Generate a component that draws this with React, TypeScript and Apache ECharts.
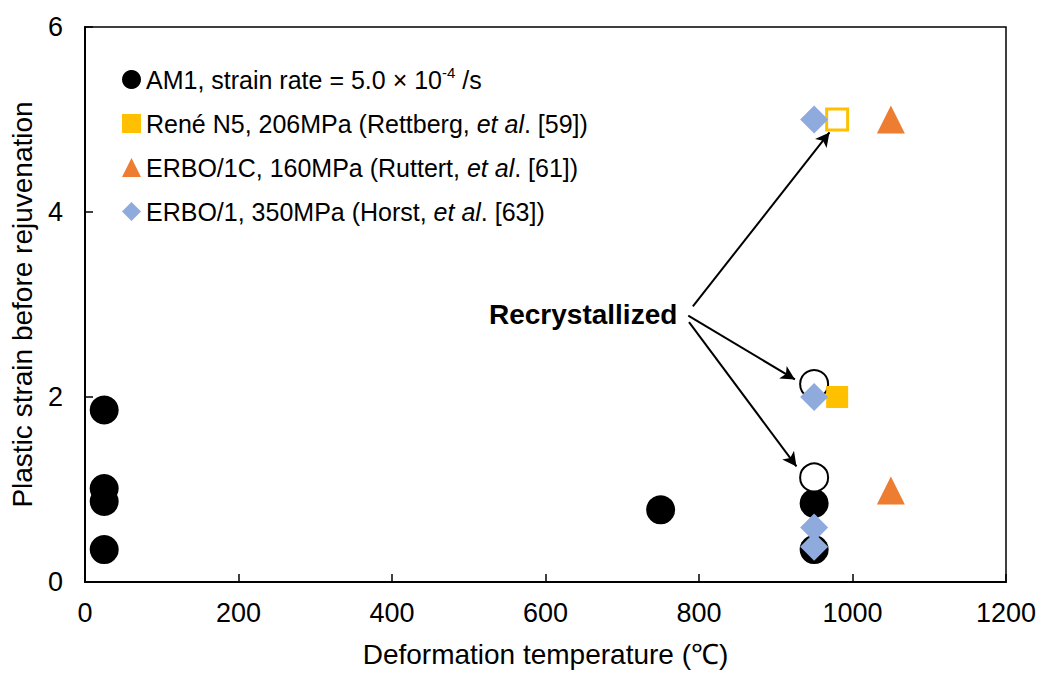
import React, { useEffect, useRef } from "react";
import * as echarts from "echarts";

// AM1, strain rate = 5.0e-4 /s (filled circles)
const am1: [number, number][] = [
  [25, 1.86],
  [25, 1.01],
  [25, 0.87],
  [25, 0.35],
  [750, 0.78],
  [950, 0.85],
  [950, 0.35],
];
// AM1 recrystallized (open circles)
const am1Recryst: [number, number][] = [
  [950, 2.14],
  [950, 1.13],
];
// René N5 (filled squares)
const reneN5: [number, number][] = [[980, 2.0]];
// René N5 recrystallized (open square)
const reneN5Recryst: [number, number][] = [[980, 5.0]];
// ERBO/1C (triangles)
const erbo1c: [number, number][] = [
  [1050, 5.0],
  [1050, 0.99],
];
// ERBO/1 (diamonds)
const erbo1: [number, number][] = [
  [950, 5.0],
  [950, 2.0],
  [950, 0.59],
  [950, 0.38],
];

// Annotation arrows [start, tip] in data coordinates
const arrows: [[number, number], [number, number]][] = [
  [[792, 2.98], [970, 4.86]],
  [[786, 2.88], [925, 2.19]],
  [[787, 2.81], [927, 1.25]],
];

const xTicks = { min: 0, max: 1200, interval: 200 };
const yTicks = { min: 0, max: 6, interval: 2 };

const NAMES = {
  am1: "AM1, strain rate = 5.0 × 10-4 /s",
  rene: "René N5, 206MPa (Rettberg, et al. [59])",
  erbo1c: "ERBO/1C, 160MPa (Ruttert, et al. [61])",
  erbo1: "ERBO/1, 350MPa (Horst, et al. [63])",
};

const FONT = "'Liberation Sans', Arial, sans-serif";

export default function App() {
  const ref = useRef<HTMLDivElement>(null);
  useEffect(() => {
    if (!ref.current) return;
    const chart = echarts.init(ref.current, undefined, { renderer: "svg" });
    const legendFormatter = (name: string) => {
      if (name === NAMES.am1) return "{n|AM1, strain rate = 5.0 × 10}{s|-4}{n| /s}";
      if (name === NAMES.rene) return "{n|René N5, 206MPa (Rettberg, }{i|et al}{n|. [59])}";
      if (name === NAMES.erbo1c) return "{n|ERBO/1C, 160MPa (Ruttert, }{i|et al}{n|. [61])}";
      if (name === NAMES.erbo1) return "{n|ERBO/1, 350MPa (Horst, }{i|et al}{n|. [63])}";
      return name;
    };
    chart.setOption({
      animation: false,
      backgroundColor: "#ffffff",
      textStyle: { fontFamily: FONT },
      grid: {
        left: 85,
        right: 35,
        top: 27,
        bottom: 89,
        show: true,
        borderColor: "#000",
        borderWidth: 1.5,
        containLabel: false,
      },
      legend: {
        data: [NAMES.am1, NAMES.rene, NAMES.erbo1c, NAMES.erbo1],
        orient: "vertical",
        left: 117,
        top: 60,
        itemWidth: 19,
        itemHeight: 19,
        itemGap: 15,
        selectedMode: false,
        formatter: legendFormatter,
        textStyle: {
          fontFamily: FONT,
          fontSize: 25,
          color: "#000",
          lineHeight: 29,
          rich: {
            n: { fontFamily: FONT, fontSize: 25, color: "#000", lineHeight: 29 },
            i: { fontFamily: FONT, fontSize: 25, color: "#000", fontStyle: "italic", lineHeight: 29 },
            s: { fontFamily: FONT, fontSize: 15, color: "#000", verticalAlign: "top", lineHeight: 15 },
          },
        },
      },
      xAxis: {
        type: "value",
        min: xTicks.min,
        max: xTicks.max,
        interval: xTicks.interval,
        name: "Deformation temperature (℃)",
        nameLocation: "middle",
        nameGap: 58,
        nameTextStyle: { fontFamily: FONT, fontSize: 28, color: "#000" },
        axisLine: { show: true, lineStyle: { color: "#000", width: 2 } },
        axisTick: { show: true, inside: true, length: 8, lineStyle: { color: "#000", width: 1.5 } },
        axisLabel: {
          fontFamily: FONT,
          fontSize: 27,
          color: "#000",
          margin: 17,
          formatter: (v: number) => String(v),
        },
        splitLine: { show: false },
      },
      yAxis: {
        type: "value",
        min: yTicks.min,
        max: yTicks.max,
        interval: yTicks.interval,
        name: "Plastic strain before rejuvenation",
        nameLocation: "middle",
        nameGap: 49,
        nameTextStyle: { fontFamily: FONT, fontSize: 28, color: "#000" },
        axisLine: { show: true, lineStyle: { color: "#000", width: 2 } },
        axisTick: { show: true, inside: true, length: 8, lineStyle: { color: "#000", width: 1.5 } },
        axisLabel: {
          fontFamily: FONT,
          fontSize: 27,
          color: "#000",
          margin: 22,
          formatter: (v: number) => String(v),
        },
        splitLine: { show: false },
      },
      series: [
        {
          name: NAMES.am1,
          type: "scatter",
          data: am1,
          symbol: "circle",
          symbolSize: 29,
          itemStyle: { color: "#000", opacity: 1 },
          z: 2,
        },
        {
          name: "AM1 recrystallized",
          type: "scatter",
          data: am1Recryst,
          symbol: "circle",
          symbolSize: 28,
          itemStyle: { color: "#fff", borderColor: "#000", borderWidth: 2, opacity: 1 },
          z: 2,
          markLine: {
            silent: true,
            symbol: ["none", "arrow"],
            symbolSize: [11, 14],
            label: { show: false },
            lineStyle: { color: "#000", width: 2, type: "solid", opacity: 1 },
            data: arrows.map(([s, t]) => [{ coord: s }, { coord: t }]),
          },
        },
        {
          name: NAMES.rene,
          type: "scatter",
          data: reneN5,
          symbol: "rect",
          symbolSize: 22,
          itemStyle: { color: "#FFC000", opacity: 1 },
          z: 3,
        },
        {
          name: "René N5 recrystallized",
          type: "scatter",
          data: reneN5Recryst,
          symbol: "rect",
          symbolSize: 21,
          itemStyle: { color: "#fff", borderColor: "#FFC000", borderWidth: 3, opacity: 1 },
          z: 3,
        },
        {
          name: NAMES.erbo1c,
          type: "scatter",
          data: erbo1c,
          symbol: "triangle",
          symbolSize: 28,
          itemStyle: { color: "#ED7D31", opacity: 1 },
          z: 3,
        },
        {
          name: NAMES.erbo1,
          type: "scatter",
          data: erbo1,
          symbol: "diamond",
          symbolSize: 28,
          itemStyle: { color: "#8FAADC", opacity: 1 },
          z: 4,
        },
      ],
      graphic: [
        {
          type: "text",
          left: 489,
          top: 300,
          style: {
            text: "Recrystallized",
            font: `bold 28px ${FONT}`,
            fill: "#000",
          },
        },
      ],
    });
    return () => chart.dispose();
  }, []);
  return (
    <div
      ref={ref}
      style={{ position: "fixed", left: 0, top: 0, width: 1041, height: 673, background: "#fff" }}
    />
  );
}
